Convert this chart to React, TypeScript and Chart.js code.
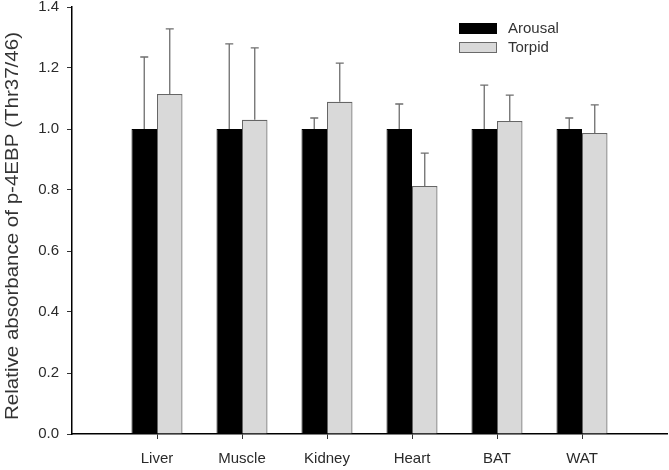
import React, { useEffect, useRef } from "react";
import { Chart, registerables } from "chart.js";

Chart.register(...registerables);

const categories = ["Liver", "Muscle", "Kidney", "Heart", "BAT", "WAT"];
const arousalMeans = [1.0, 1.0, 1.0, 1.0, 1.0, 1.0];
const arousalErrTops = [1.236, 1.279, 1.036, 1.082, 1.144, 1.036];
const torpidMeans = [1.115, 1.03, 1.089, 0.813, 1.026, 0.987];
const torpidErrTops = [1.328, 1.266, 1.216, 0.921, 1.111, 1.079];
const yTicks = [0, 0.2, 0.4, 0.6, 0.8, 1.0, 1.2, 1.4];
const seriesNames = ["Arousal", "Torpid"];
const yTitle = "Relative absorbance of p-4EBP (Thr37/46)";

const FONT = "'Liberation Sans', Arial, sans-serif";

const pad = <T,>(arr: T[]): (T | null)[] => [null, ...arr, null];

const errorBarPlugin = {
  id: "errorBars",
  afterDatasetsDraw(chart: any) {
    const ctx = chart.ctx;
    const yScale = chart.scales.y;
    chart.data.datasets.forEach((ds: any, di: number) => {
      const meta = chart.getDatasetMeta(di);
      const tops = ds.errTops as (number | null)[];
      meta.data.forEach((el: any, i: number) => {
        const t = tops[i];
        if (t == null || ds.data[i] == null) return;
        const x = el.x;
        const y0 = el.y;
        const y1 = yScale.getPixelForValue(t);
        ctx.save();
        ctx.strokeStyle = "#6e6e6e";
        ctx.lineWidth = 1.3;
        ctx.beginPath();
        ctx.moveTo(x, y0);
        ctx.lineTo(x, y1);
        ctx.moveTo(x - 4, y1);
        ctx.lineTo(x + 4, y1);
        ctx.stroke();
        ctx.restore();
      });
    });
  },
};

const legendPlugin = {
  id: "customLegend",
  afterDraw(chart: any) {
    const ctx = chart.ctx;
    const items = [
      { label: seriesNames[0], fill: "#000000", stroke: "#000000", y: 23 },
      { label: seriesNames[1], fill: "#d9d9d9", stroke: "#6a6a6a", y: 42 },
    ];
    ctx.save();
    items.forEach((it) => {
      ctx.fillStyle = it.fill;
      ctx.fillRect(459, it.y, 38, 11);
      ctx.strokeStyle = it.stroke;
      ctx.lineWidth = 1;
      ctx.strokeRect(459.5, it.y + 0.5, 37, 10);
      ctx.fillStyle = "#333333";
      ctx.font = `15px ${FONT}`;
      ctx.textBaseline = "middle";
      ctx.textAlign = "left";
      ctx.fillText(it.label, 508, it.y + 6);
    });
    ctx.restore();
  },
};

const titlePlugin = {
  id: "yTitle",
  afterDraw(chart: any) {
    const ctx = chart.ctx;
    ctx.save();
    ctx.font = `18px ${FONT}`;
    const w = ctx.measureText(yTitle).width;
    const sx = 388 / w;
    ctx.translate(13, 226);
    ctx.rotate(-Math.PI / 2);
    ctx.scale(sx, 1);
    ctx.fillStyle = "#333333";
    ctx.textAlign = "center";
    ctx.textBaseline = "middle";
    ctx.fillText(yTitle, 0, 0);
    ctx.restore();
  },
};

export default function App() {
  const canvasRef = useRef<HTMLCanvasElement | null>(null);

  useEffect(() => {
    document.body.style.margin = "0";
    const canvas = canvasRef.current;
    if (!canvas) return;
    const labels = ["", ...categories, ""];
    const chart = new Chart(canvas, {
      type: "bar",
      data: {
        labels,
        datasets: [
          {
            label: seriesNames[0],
            data: pad(arousalMeans),
            errTops: pad(arousalErrTops),
            backgroundColor: "#000000",
            borderColor: "#000000",
            borderWidth: 1,
            categoryPercentage: 0.6,
            barPercentage: 1.0,
          } as any,
          {
            label: seriesNames[1],
            data: pad(torpidMeans),
            errTops: pad(torpidErrTops),
            backgroundColor: "#d9d9d9",
            borderColor: "#666666",
            borderWidth: 1.2,
            categoryPercentage: 0.6,
            barPercentage: 1.0,
          } as any,
        ],
      },
      options: {
        responsive: false,
        animation: false,
        devicePixelRatio: 1,
        layout: { padding: { top: 7, right: 2, left: 0, bottom: 0 } },
        plugins: {
          legend: { display: false },
          tooltip: { enabled: false },
        },
        scales: {
          x: {
            type: "category",
            offset: false,
            grid: {
              display: true,
              offset: false,
              drawOnChartArea: false,
              drawTicks: true,
              tickLength: 5,
              tickWidth: 1,
              tickColor: (c: any) =>
                c.index === 0 || c.index === labels.length - 1 ? "rgba(0,0,0,0)" : "#333333",
            },
            border: { display: true, color: "#000000", width: 1.5 },
            ticks: {
              autoSkip: false,
              maxRotation: 0,
              padding: 11,
              color: "#2a2a2a",
              font: { family: FONT, size: 15 },
            },
            afterFit: (scale: any) => {
              scale.height = 36;
              scale.paddingLeft = 0;
              scale.paddingRight = 0;
            },
          },
          y: {
            type: "linear",
            min: 0,
            max: 1.4,
            afterBuildTicks: (scale: any) => {
              scale.ticks = yTicks.map((v) => ({ value: v }));
            },
            grid: {
              display: true,
              drawOnChartArea: false,
              drawTicks: true,
              tickLength: 5,
              tickColor: "#333333",
            },
            border: { display: true, color: "#000000", width: 1.5 },
            ticks: {
              padding: 8,
              color: "#2a2a2a",
              font: { family: FONT, size: 15 },
              callback: (v: any) => Number(v).toFixed(1),
            },
            title: { display: false },
            afterFit: (scale: any) => {
              scale.width = 72;
              scale.paddingTop = 0;
              scale.paddingBottom = 0;
            },
          },
        },
      },
      plugins: [errorBarPlugin, legendPlugin, titlePlugin],
    } as any);
    return () => chart.destroy();
  }, []);

  return (
    <div style={{ width: 669, height: 470, background: "#ffffff" }}>
      <canvas ref={canvasRef} width={669} height={470} style={{ display: "block" }} />
    </div>
  );
}
